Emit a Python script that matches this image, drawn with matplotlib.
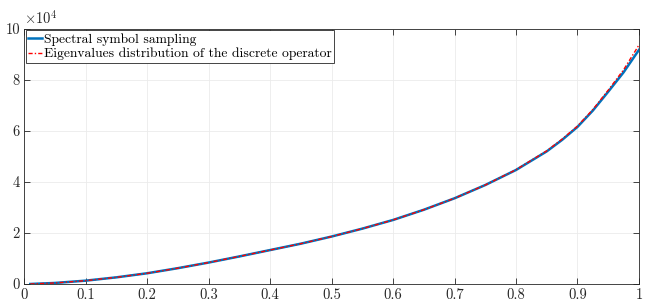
import matplotlib
matplotlib.use("Agg")
import matplotlib.pyplot as plt
from matplotlib.ticker import FuncFormatter

plt.rcParams['font.family'] = ['cmr10', 'Liberation Serif']
plt.rcParams['mathtext.fontset'] = 'cm'
plt.rcParams['axes.formatter.use_mathtext'] = True

# values
x = [0.01, 0.05, 0.1, 0.15, 0.2, 0.25, 0.3, 0.35, 0.4, 0.45, 0.5, 0.55, 0.6,
     0.65, 0.7, 0.75, 0.8, 0.85, 0.875, 0.9, 0.925, 0.95, 0.975, 1.0]
symbol = [0, 400, 1300, 2600, 4200, 6200, 8400, 10800, 13300, 15800, 18600,
          21700, 25100, 29100, 33600, 38800, 44700, 52000, 56500, 61600,
          68000, 75400, 83000, 91800]
eigs = [0, 400, 1300, 2600, 4200, 6200, 8400, 10800, 13300, 15800, 18600,
        21700, 25100, 29100, 33600, 38800, 44800, 52200, 56800, 61900,
        68400, 76000, 84000, 93700]

fig = plt.figure(figsize=(6.54, 3.08), dpi=100)
ax = fig.add_axes([0.037, 0.078, 0.94, 0.828])

ax.plot(x, symbol, color='#0072BD', lw=1.8, label='Spectral symbol sampling')
ax.plot(x, eigs, color='r', ls=(0, (3, 1.5, 1, 1.5)), lw=1,
        label='Eigenvalues distribution of the discrete operator')

ax.set_xlim(0, 1)
ax.set_ylim(0, 100000)
ax.set_xticks([i / 10 for i in range(11)])
ax.xaxis.set_major_formatter(FuncFormatter(lambda v, p: '%g' % v))
ax.set_yticks(range(0, 100001, 20000))
ax.yaxis.set_major_formatter(FuncFormatter(lambda v, p: '%g' % (v / 1e4)))
ax.text(0.0, 1.01, r'$\times10^4$', transform=ax.transAxes, fontsize=10.5,
        ha='left', va='bottom', color='#262626')

ax.grid(True, color='#ebebeb', lw=0.6)
ax.tick_params(direction='in', length=4, width=0.6, colors='#262626',
               labelsize=10.5, top=True, right=True, pad=3)
for s in ax.spines.values():
    s.set_color('#262626')
    s.set_linewidth(0.6)

leg = ax.legend(loc='upper left', fontsize=9.8, handlelength=1.0, handletextpad=0.15,
                borderaxespad=0.1, borderpad=0.2, labelspacing=0.15, fancybox=False,
                edgecolor='#262626', framealpha=1)
leg.get_frame().set_linewidth(0.6)

fig.savefig('out.png', dpi=100)
